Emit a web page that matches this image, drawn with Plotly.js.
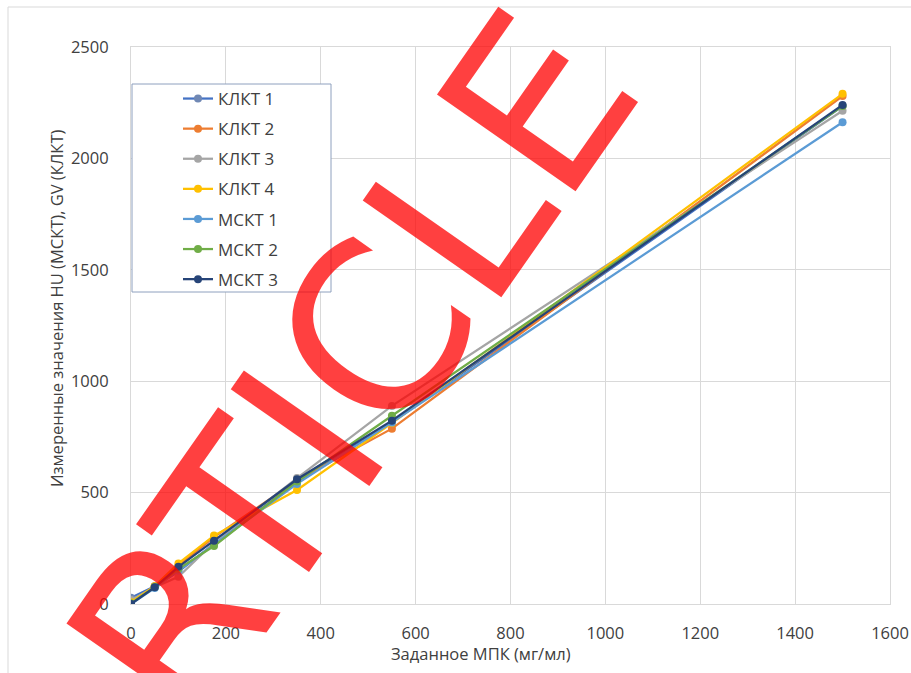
<!DOCTYPE html>
<html>
<head>
<meta charset="utf-8">
<script src="https://cdn.plot.ly/plotly-3.0.1.min.js"></script>
<style>
  html, body { margin: 0; padding: 0; background: #ffffff; }
  #chart { width: 911px; height: 673px; }
</style>
</head>
<body>
<div id="chart"></div>
<script>
// Заданное МПК (мг/мл)
const concentrations = [0, 50, 100, 175, 350, 550, 1500];

const klkt1 = [28, 80, 145, 270, 548, 815, 2235];
const klkt2 = [10, 78, 172, 300, 555, 787, 2280];
const klkt3 = [18, 75, 122, 276, 565, 889, 2214];
const klkt4 = [8, 80, 182, 307, 512, 812, 2290];
const mskt1 = [0, 72, 150, 268, 539, 815, 2162];
const mskt2 = [3, 76, 158, 260, 550, 845, 2235];
const mskt3 = [0, 75, 167, 284, 560, 823, 2240];

const seriesNames = ['КЛКТ 1', 'КЛКТ 2', 'КЛКТ 3', 'КЛКТ 4', 'МСКТ 1', 'МСКТ 2', 'МСКТ 3'];
const seriesValues = [klkt1, klkt2, klkt3, klkt4, mskt1, mskt2, mskt3];
const lineColors = ['#4472C4', '#ED7D31', '#A5A5A5', '#FFC000', '#5B9BD5', '#70AD47', '#264478'];
const markerColors = ['#7088B4', '#ED7D31', '#A5A5A5', '#FFC000', '#5B9BD5', '#70AD47', '#264478'];

const xTitle = 'Заданное МПК (мг/мл)';
const yTitle = 'Измеренные значения HU (МСКТ), GV (КЛКТ)';
const watermark = 'ARTICLE';

const FONT = '"Open Sans", "Noto Sans", sans-serif';
const TXT = '#404040';
const GRID = '#D9D9D9';

const traces = seriesNames.map((name, i) => ({
  type: 'scatter',
  mode: 'lines+markers',
  name: name,
  legendgroup: 'g' + i,
  x: concentrations,
  y: seriesValues[i],
  line: { color: lineColors[i], width: 2.25 },
  marker: { color: markerColors[i], size: 8, symbol: 'circle' }
}));

const W = 911, H = 673;
const L = 131, R = 21, T = 47, B = 69;
const pw = W - L - R, ph = H - T - B;
const px = v => (v - L) / pw;          // pixel -> paper x
const py = v => (H - B - v) / ph;      // pixel -> paper y

const layout = {
  width: W, height: H,
  margin: { l: L, r: R, t: T, b: B, pad: 0 },
  paper_bgcolor: '#ffffff',
  plot_bgcolor: '#ffffff',
  font: { family: FONT, size: 16, color: TXT },
  showlegend: true,
  xaxis: {
    range: [0, 1600], dtick: 200, tick0: 0,
    showgrid: true, gridcolor: GRID, gridwidth: 1,
    zeroline: false, showline: true, linecolor: GRID, linewidth: 1, mirror: true,
    ticks: '', ticklabelstandoff: 14,
    tickfont: { family: FONT, size: 16.5, color: TXT }
  },
  yaxis: {
    range: [0, 2500], dtick: 500, tick0: 0,
    showgrid: true, gridcolor: GRID, gridwidth: 1,
    zeroline: false, showline: true, linecolor: GRID, linewidth: 1, mirror: true,
    ticks: '', ticklabelstandoff: 18,
    tickfont: { family: FONT, size: 16.5, color: TXT }
  },
  legend: {
    x: px(178), y: py(81), xanchor: 'left', yanchor: 'top',
    bgcolor: 'rgba(0,0,0,0)', borderwidth: 0,
    font: { family: FONT, size: 17, color: TXT },
    tracegroupgap: 5,
    itemclick: false, itemdoubleclick: false
  },
  shapes: [
    { type: 'rect', xref: 'paper', yref: 'paper', layer: 'above',
      x0: px(132), x1: px(331), y0: py(292), y1: py(84),
      line: { color: '#8EA0BE', width: 1 }, fillcolor: '#ffffff' },
    { type: 'rect', xref: 'paper', yref: 'paper', layer: 'below',
      x0: px(8), x1: px(930), y0: py(700), y1: py(7),
      line: { color: GRID, width: 1 }, fillcolor: 'rgba(0,0,0,0)' }
  ],
  annotations: [
    { text: xTitle, xref: 'paper', yref: 'paper', x: px(481), y: py(653),
      xanchor: 'center', yanchor: 'middle', showarrow: false,
      font: { family: FONT, size: 16.5, color: TXT } },
    { text: yTitle, xref: 'paper', yref: 'paper', x: px(56), y: py(308),
      xanchor: 'center', yanchor: 'middle', showarrow: false, textangle: -90,
      font: { family: FONT, size: 16.5, color: TXT } },
    { text: watermark, xref: 'paper', yref: 'paper', x: px(308), y: py(434),
      xanchor: 'center', yanchor: 'middle', showarrow: false, textangle: -55,
      font: { family: '"DejaVu Sans", sans-serif', size: 232, color: 'rgba(255,0,0,0.75)' } }
  ]
};

Plotly.newPlot('chart', traces, layout, { displayModeBar: false, staticPlot: true });
</script>
</body>
</html>
